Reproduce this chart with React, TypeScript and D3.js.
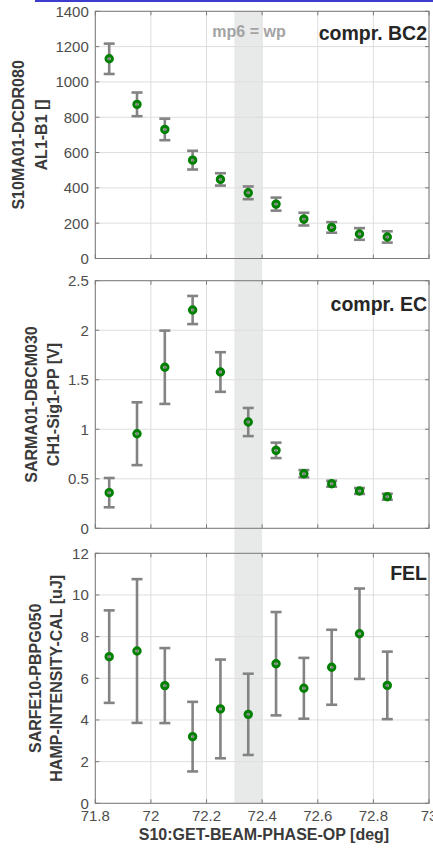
import React from "react";
import * as d3 from "d3";

const xPhase = [71.85, 71.95, 72.05, 72.15, 72.25, 72.35, 72.45, 72.55, 72.65, 72.75, 72.85];
const xTicks = [71.8, 72, 72.2, 72.4, 72.6, 72.8, 73];
const xTickLabels = ["71.8", "72", "72.2", "72.4", "72.6", "72.8", "73"];
const wpBand = [72.3, 72.4];

const bc2Values = [1131, 873, 731, 557, 448, 372, 308, 223, 176, 139, 122];
const bc2Errors = [86, 67, 61, 53, 35, 36, 37, 36, 30, 33, 32];
const bc2Ticks = [0, 200, 400, 600, 800, 1000, 1200, 1400];

const ecValues = [0.36, 0.955, 1.626, 2.204, 1.578, 1.073, 0.787, 0.551, 0.45, 0.377, 0.319];
const ecErrors = [0.148, 0.317, 0.37, 0.142, 0.2, 0.142, 0.078, 0.037, 0.03, 0.03, 0.03];
const ecTicks = [0, 0.5, 1, 1.5, 2, 2.5];

const felValues = [7.04, 7.31, 5.65, 3.2, 4.53, 4.27, 6.7, 5.52, 6.53, 8.14, 5.66];
const felErrors = [2.22, 3.45, 1.8, 1.67, 2.37, 1.95, 2.48, 1.46, 1.8, 2.17, 1.62];
const felTicks = [0, 2, 4, 6, 8, 10, 12];

const W = 433;
const H = 849;
const LEFT = 95.3;
const RIGHT = 429;
const FONT = "'Liberation Sans', Arial, Helvetica, sans-serif";

type Panel = {
  values: number[];
  errors: number[];
  ticks: number[];
  top: number;
  bottom: number;
  title: string;
  titleBaseline: number;
  label: [string, string];
  labelX: [number, number];
};

const panels: Panel[] = [
  {
    values: bc2Values,
    errors: bc2Errors,
    ticks: bc2Ticks,
    top: 11.3,
    bottom: 258.5,
    title: "compr. BC2",
    titleBaseline: 40,
    label: ["S10MA01-DCDR080", "AL1-B1 []"],
    labelX: [18.8, 41.3],
  },
  {
    values: ecValues,
    errors: ecErrors,
    ticks: ecTicks,
    top: 280.7,
    bottom: 528.3,
    title: "compr. EC",
    titleBaseline: 310.5,
    label: ["SARMA01-DBCM030", "CH1-Sig1-PP [V]"],
    labelX: [31.7, 53.5],
  },
  {
    values: felValues,
    errors: felErrors,
    ticks: felTicks,
    top: 553.3,
    bottom: 803.3,
    title: "FEL",
    titleBaseline: 580,
    label: ["SARFE10-PBPG050", "HAMP-INTENSITY-CAL [uJ]"],
    labelX: [35.3, 56.7],
  },
];

const x = d3.scaleLinear().domain([71.8, 73]).range([LEFT, RIGHT]);

function PanelView({ p, showX }: { p: Panel; showX: boolean }) {
  const tickMax = p.ticks[p.ticks.length - 1];
  const y = d3.scaleLinear().domain([0, tickMax]).range([p.bottom, p.top]);
  const axisColor = "#7a7a7a";
  const gridColor = "#dedede";
  const tl = 4;
  const cap = 5.5;
  return (
    <g>
      {xTicks.map((t, i) => (
        <line key={"gx" + i} x1={x(t)} x2={x(t)} y1={p.top} y2={p.bottom} stroke={gridColor} strokeWidth={1} />
      ))}
      {p.ticks.map((t, i) => (
        <line key={"gy" + i} x1={LEFT} x2={RIGHT} y1={y(t)} y2={y(t)} stroke={gridColor} strokeWidth={1} />
      ))}
      {xTicks.map((t, i) => (
        <g key={"tx" + i}>
          <line x1={x(t)} x2={x(t)} y1={p.bottom} y2={p.bottom - tl} stroke={axisColor} />
          <line x1={x(t)} x2={x(t)} y1={p.top} y2={p.top + tl} stroke={axisColor} />
        </g>
      ))}
      {p.ticks.map((t, i) => (
        <g key={"ty" + i}>
          <line x1={LEFT} x2={LEFT + tl} y1={y(t)} y2={y(t)} stroke={axisColor} />
          <line x1={RIGHT} x2={RIGHT - tl} y1={y(t)} y2={y(t)} stroke={axisColor} />
        </g>
      ))}
      <rect x={LEFT} y={p.top} width={RIGHT - LEFT} height={p.bottom - p.top} fill="none" stroke={axisColor} strokeWidth={1} />
      {p.ticks.map((t, i) => (
        <text key={"ly" + i} x={88.8} y={y(t)} textAnchor="end" dominantBaseline="central" fontSize={15} fill="#4d4d4d" fontFamily={FONT}>
          {String(t)}
        </text>
      ))}
      {showX &&
        xTicks.map((t, i) => (
          <text key={"lx" + i} x={x(t)} y={815} textAnchor="middle" dominantBaseline="central" fontSize={15} fill="#4d4d4d" fontFamily={FONT}>
            {xTickLabels[i]}
          </text>
        ))}
      {p.label.map((s, i) => (
        <text
          key={"yl" + i}
          transform={`translate(${p.labelX[i]},${(p.top + p.bottom) / 2}) rotate(-90)`}
          textAnchor="middle"
          dominantBaseline="central"
          fontSize={16}
          fontWeight="bold"
          fill="#3a3a3a"
          fontFamily={FONT}
        >
          {s}
        </text>
      ))}
      <text x={427} y={p.titleBaseline} textAnchor="end" fontSize={19.5} fontWeight="bold" fill="#262626" fontFamily={FONT}>
        {p.title}
      </text>
      {xPhase.map((xv, i) => {
        const lo = y(p.values[i] - p.errors[i]);
        const hi = y(p.values[i] + p.errors[i]);
        const cx = x(xv);
        return (
          <g key={"eb" + i} stroke="#838383" strokeWidth={2.6}>
            <line x1={cx} x2={cx} y1={lo} y2={hi} />
            <line x1={cx - cap} x2={cx + cap} y1={lo} y2={lo} />
            <line x1={cx - cap} x2={cx + cap} y1={hi} y2={hi} />
          </g>
        );
      })}
      {xPhase.map((xv, i) => (
        <circle key={"m" + i} cx={x(xv)} cy={y(p.values[i])} r={3.2} fill="none" stroke="#008000" strokeWidth={3} />
      ))}
    </g>
  );
}

export default function App() {
  const bandTop = panels[0].top;
  const bandBottom = panels[2].bottom;
  return (
    <svg width={W} height={H} style={{ position: "absolute", left: 0, top: 0, background: "#fff" }}>
      <rect x={0} y={0} width={W} height={H} fill="#ffffff" />
      <rect x={35} y={0} width={W - 35} height={2} fill="#3c3cce" />
      <rect x={x(wpBand[0])} y={bandTop} width={x(wpBand[1]) - x(wpBand[0])} height={bandBottom - bandTop} fill="#e8e9e9" />
      {panels.map((p, i) => (
        <PanelView key={i} p={p} showX={i === 2} />
      ))}
      <text x={249} y={37} textAnchor="middle" fontSize={16} fontWeight="bold" fill="#a3a3a3" fontFamily={FONT}>
        mp6 = wp
      </text>
      <text x={264} y={834} textAnchor="middle" dominantBaseline="central" fontSize={16} fontWeight="bold" fill="#3a3a3a" fontFamily={FONT}>
        S10:GET-BEAM-PHASE-OP [deg]
      </text>
    </svg>
  );
}
